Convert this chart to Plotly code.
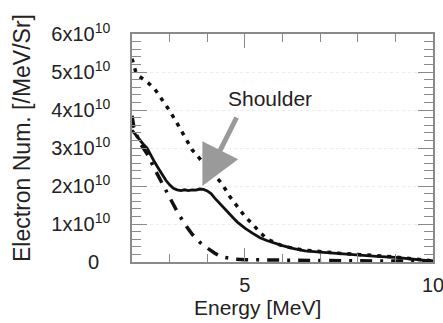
import plotly.graph_objects as go

# ---- data ----
solid_x = [2.0, 2.1, 2.2, 2.3, 2.4, 2.5, 2.6, 2.7, 2.8, 2.9, 3.0, 3.1, 3.2, 3.3, 3.4, 3.5,
           3.6, 3.7, 3.8, 3.9, 4.0, 4.1, 4.2, 4.3, 4.4, 4.5, 4.6, 4.7, 4.8, 4.9, 5.0, 5.2,
           5.4, 5.6, 5.8, 6.0, 6.3, 6.6, 7.0, 7.5, 8.0, 8.5, 9.0, 9.5, 10.0]
solid_y = [3.47, 3.35, 3.2, 3.1, 3.0, 2.8, 2.63, 2.47, 2.3, 2.15, 2.03, 1.94, 1.9, 1.88, 1.9, 1.88,
           1.9, 1.89, 1.92, 1.91, 1.87, 1.8, 1.68, 1.57, 1.46, 1.35, 1.25, 1.15, 1.05, 0.97, 0.89, 0.76,
           0.64, 0.56, 0.49, 0.43, 0.35, 0.29, 0.26, 0.22, 0.18, 0.15, 0.12, 0.07, 0.02]

dot_x = [2.0, 2.1, 2.2, 2.4, 2.6, 2.8, 3.0, 3.2, 3.4, 3.6, 3.8, 4.0, 4.2, 4.4, 4.6, 4.8,
         5.0, 5.2, 5.4, 5.6, 5.8, 6.0, 6.5, 7.0, 7.5, 8.0, 8.5, 9.0, 9.5, 10.0]
dot_y = [5.35, 5.0, 4.88, 4.74, 4.56, 4.28, 3.98, 3.65, 3.3, 2.95, 2.72, 2.5, 2.29, 2.05, 1.72, 1.47,
         1.2, 1.0, 0.78, 0.6, 0.5, 0.42, 0.32, 0.27, 0.23, 0.2, 0.17, 0.13, 0.08, 0.03]

dd_x = [2.0, 2.05, 2.2, 2.4, 2.6, 2.8, 3.0, 3.2, 3.4, 3.6, 3.8, 4.0, 4.2, 4.4, 4.7, 5.0,
        5.5, 6.0, 7.0, 8.0, 9.0, 10.0]
dd_y = [3.85, 3.55, 3.15, 2.85, 2.45, 2.05, 1.7, 1.33, 1.0, 0.73, 0.52, 0.37, 0.23, 0.13, 0.08, 0.06,
        0.05, 0.05, 0.04, 0.03, 0.03, 0.02]

SCALE = 1e10
y_tickvals = [0, 1, 2, 3, 4, 5, 6]
y_ticktext = ["0\u00a0\u00a0", "1x10<sup>10</sup>", "2x10<sup>10</sup>", "3x10<sup>10</sup>",
              "4x10<sup>10</sup>", "5x10<sup>10</sup>", "6x10<sup>10</sup>"]
x_tickvals = [5, 10]
x_ticktext = ["5", "10"]

arrow_tip = (3.87, 2.0)
annot_text = "Shoulder"

FONT = "Liberation Sans, Arial, sans-serif"
AX = "#8a8a8a"

fig = go.Figure()
fig.add_trace(go.Scatter(x=dd_x, y=[v * SCALE for v in dd_y], mode="lines",
                         line=dict(color="#111111", width=3.5, dash="12px,8px,3px,8px")))
fig.add_trace(go.Scatter(x=dot_x, y=[v * SCALE for v in dot_y], mode="lines",
                         line=dict(color="#111111", width=3.5, dash="4px,6px")))
fig.add_trace(go.Scatter(x=solid_x, y=[v * SCALE for v in solid_y], mode="lines",
                         line=dict(color="#111111", width=2.8)))

fig.update_layout(
    width=443, height=323,
    margin=dict(l=132, r=10, t=34, b=61, autoexpand=False),
    plot_bgcolor="white", paper_bgcolor="white",
    showlegend=False,
    font=dict(family=FONT, color="#222222", size=20),
)
fig.update_xaxes(
    range=[2, 10], showline=True, linecolor=AX, linewidth=1.5, mirror="ticks",
    ticks="inside", ticklen=14, tickcolor=AX, tickwidth=1.2, automargin=False,
    tickvals=x_tickvals, ticktext=x_ticktext, tickfont=dict(size=20),
    ticklabeloverflow="allow",
    minor=dict(dtick=1, tick0=0, ticks="inside", ticklen=8, tickcolor=AX, showgrid=False),
    showgrid=False, zeroline=False, ticklabelstandoff=4,
)
fig.update_yaxes(
    range=[0, 6 * SCALE], showline=True, linecolor=AX, linewidth=1.5, mirror="ticks",
    ticks="inside", ticklen=15, tickcolor=AX, tickwidth=1.2, automargin=False,
    tickvals=[v * SCALE for v in y_tickvals], ticktext=y_ticktext, tickfont=dict(size=20),
    ticklabeloverflow="allow",
    minor=dict(dtick=0.2 * SCALE, tick0=0, ticks="inside", ticklen=9, tickcolor=AX, showgrid=False),
    showgrid=True, gridcolor="#ececec", griddash="dot", zeroline=False, ticklabelstandoff=16,
)

fig.add_annotation(x=(257.5 - 132) / 301, y=(262 - 307) / 228, xref="paper", yref="paper",
                   xanchor="center", yanchor="middle",
                   text="Energy [MeV]", showarrow=False, font=dict(size=21, family=FONT))
fig.add_annotation(x=(22 - 132) / 301, y=(262 - 138) / 228, xref="paper", yref="paper",
                   xanchor="center", yanchor="middle",
                   text="Electron Num. [/MeV/Sr]", textangle=-90, showarrow=False,
                   font=dict(size=23, family=FONT))
fig.add_annotation(x=(270 - 132) / 301, y=(262 - 98) / 228, xref="paper", yref="paper",
                   xanchor="center", yanchor="middle",
                   text=annot_text, showarrow=False, font=dict(size=21, family=FONT))
fig.add_annotation(x=arrow_tip[0], y=arrow_tip[1] * SCALE, xref="x", yref="y",
                   text="", showarrow=True, axref="pixel", ayref="pixel", ax=35, ay=-70,
                   arrowhead=2, arrowsize=1.6, arrowwidth=5, arrowcolor="#9a9a9a", standoff=0)

fig.write_html("out.html", config={"displayModeBar": False},
               post_script="document.body.style.margin='0';document.body.style.overflow='hidden';")
